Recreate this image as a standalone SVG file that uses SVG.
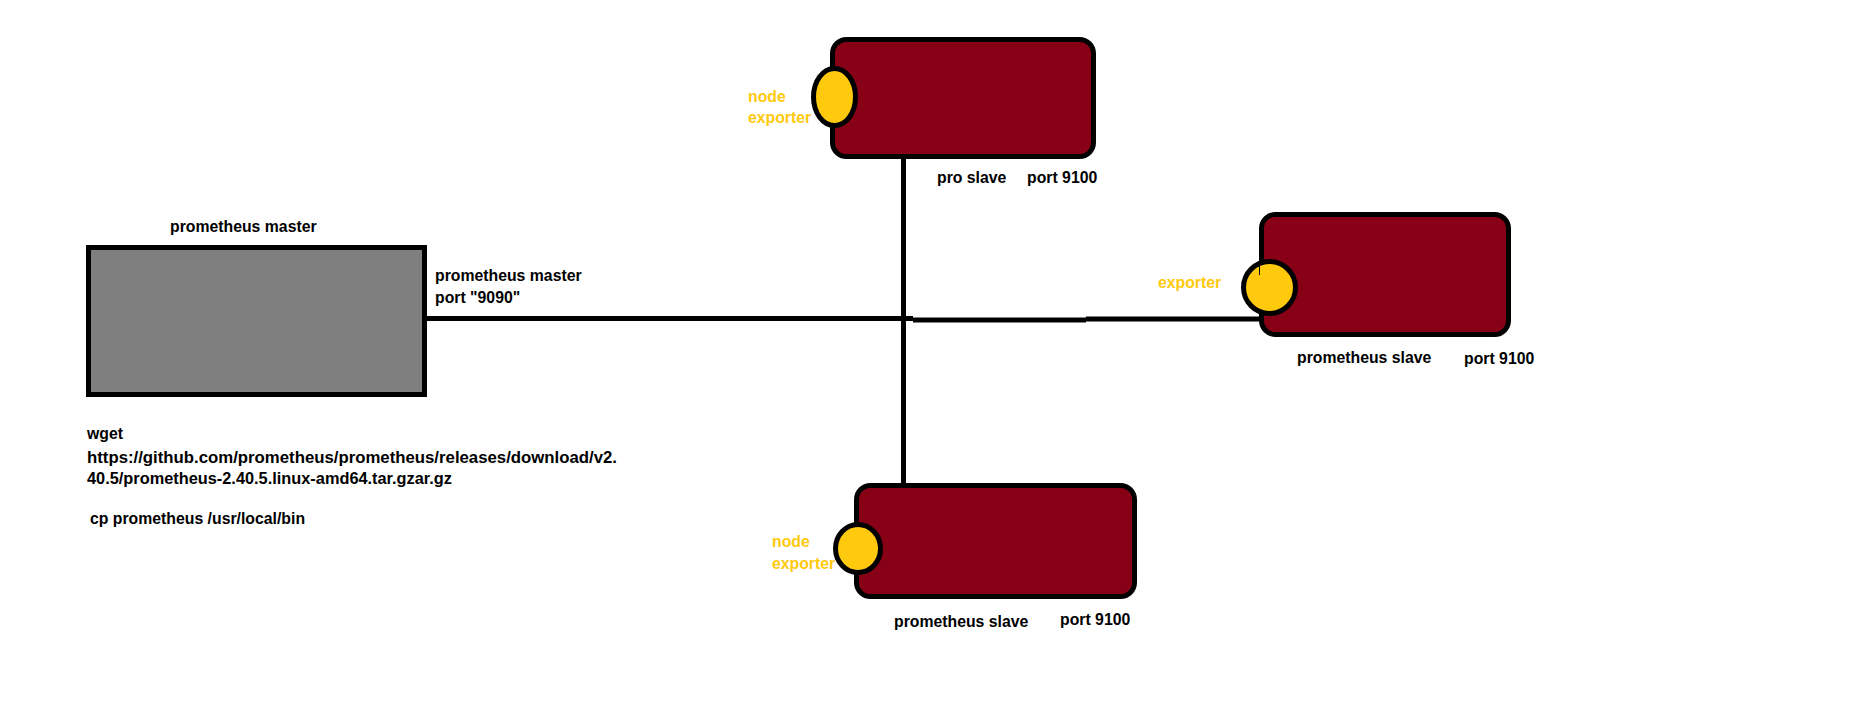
<svg xmlns="http://www.w3.org/2000/svg" width="1853" height="710" viewBox="0 0 1853 710">
<style>
text{font-family:"Liberation Sans",Arial,sans-serif;font-weight:bold;font-size:15.8px;fill:#000}
.y{fill:#FFC90E}
.slave{fill:#880015;stroke:#000;stroke-width:5}
.exp{fill:#FFC90E;stroke:#000;stroke-width:5}
.ln{stroke:#000;stroke-width:5;fill:none}
</style>
<rect width="1853" height="710" fill="#fff"/>
<g id="connectors">
<line class="ln" x1="427" y1="318.5" x2="913" y2="318.5"/>
<line class="ln" x1="913" y1="320" x2="1086" y2="320"/>
<line class="ln" x1="1086" y1="319" x2="1262" y2="319"/>
<line class="ln" x1="903.5" y1="153" x2="903.5" y2="487" stroke-linecap="round"/>
</g>
<g id="master">
<rect x="88.5" y="247.5" width="336" height="147" fill="#7F7F7F" stroke="#000" stroke-width="5"/>
<text x="170" y="232">prometheus master</text>
<text x="435" y="281">prometheus master</text>
<text x="435" y="303">port "9090"</text>
<text x="87" y="439">wget</text>
<text x="87" y="463" textLength="530" lengthAdjust="spacingAndGlyphs">https://github.com/prometheus/prometheus/releases/download/v2.</text>
<text x="87" y="484" textLength="365" lengthAdjust="spacingAndGlyphs">40.5/prometheus-2.40.5.linux-amd64.tar.gzar.gz</text>
<text x="90" y="524">cp prometheus /usr/local/bin</text>
</g>
<g id="slave-top">
<rect class="slave" x="832.5" y="39.5" width="261" height="117" rx="14"/>
<ellipse class="exp" cx="834.5" cy="97" rx="21" ry="28.5"/>
<text class="y" x="748" y="102">node</text>
<text class="y" x="748" y="123">exporter</text>
<text x="937" y="183">pro slave</text>
<text x="1027" y="183">port 9100</text>
</g>
<g id="slave-right">
<rect class="slave" x="1261.5" y="214.5" width="247" height="120" rx="14"/>
<circle class="exp" cx="1269.5" cy="287.5" r="26"/>
<line x1="1259.5" y1="262" x2="1259.5" y2="275" stroke="#000" stroke-width="1"/>
<text class="y" x="1158" y="288">exporter</text>
<text x="1297" y="363">prometheus slave</text>
<text x="1464" y="364">port 9100</text>
</g>
<g id="slave-bottom">
<rect class="slave" x="856.5" y="485.5" width="278" height="111" rx="14"/>
<ellipse class="exp" cx="858" cy="548.5" rx="22.5" ry="24"/>
<text class="y" x="772" y="547">node</text>
<text class="y" x="772" y="569">exporter</text>
<text x="894" y="627">prometheus slave</text>
<text x="1060" y="625">port 9100</text>
</g>
</svg>
